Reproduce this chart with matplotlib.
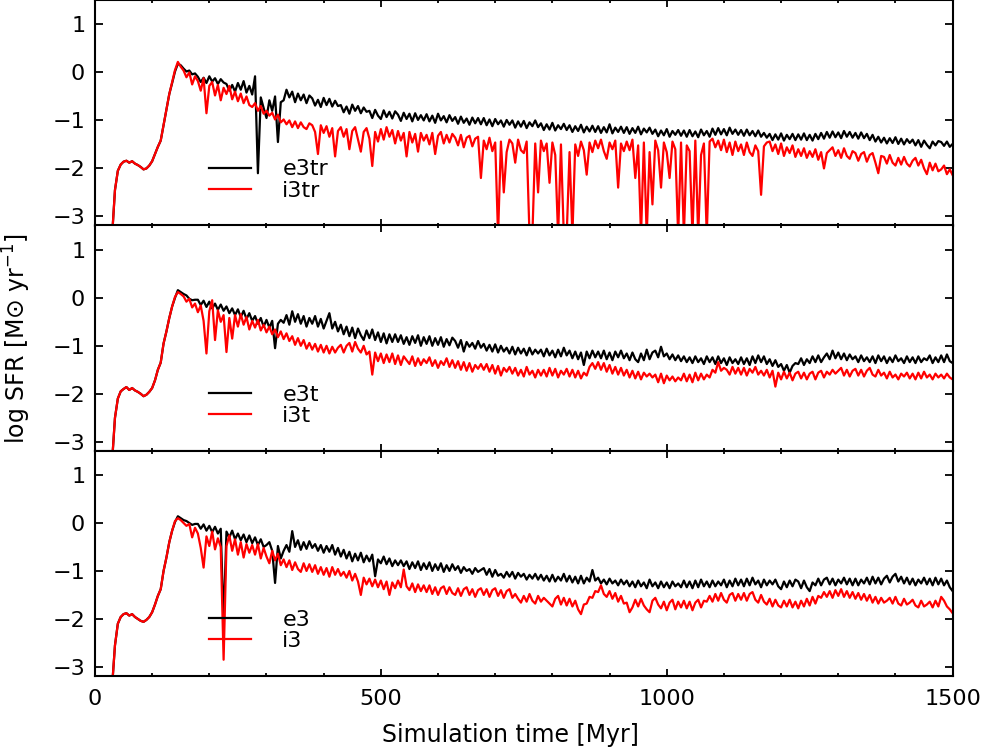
import numpy as np
import matplotlib

matplotlib.use("Agg")
import matplotlib.pyplot as plt
from matplotlib.ticker import MultipleLocator

# sampling grid of the SFR curves (Myr), values below
time_myr = np.arange(30, 1501, 5)

# ---- top panel: e3tr / i3tr ----
e3tr = [
    -3.40, -2.45, -2.05, -1.92, -1.86, -1.84, -1.88, -1.85, -1.90, -1.93,
    -1.97, -2.02, -2.00, -1.94, -1.85, -1.70, -1.55, -1.42, -1.10, -0.78,
    -0.45, -0.22, 0.02, 0.18, 0.15, 0.08, 0.02, 0.04, -0.04, -0.02,
    -0.09, -0.20, -0.11, -0.22, -0.08, -0.19, -0.12, -0.24, -0.14, -0.21,
    -0.24, -0.38, -0.26, -0.40, -0.22, -0.36, -0.18, -0.42, -0.28, -0.46,
    -0.08, -2.10, -0.52, -0.74, -0.95, -0.58, -0.80, -0.50, -1.45, -0.62,
    -0.58, -0.36, -0.52, -0.40, -0.62, -0.44, -0.58, -0.46, -0.64, -0.48,
    -0.54, -0.69, -0.57, -0.72, -0.53, -0.68, -0.55, -0.71, -0.59, -0.70,
    -0.68, -0.83, -0.71, -0.86, -0.67, -0.80, -0.70, -0.85, -0.73, -0.82,
    -0.80, -0.95, -0.78, -0.90, -0.97, -0.79, -0.93, -0.82, -0.96, -0.81,
    -0.88, -1.01, -0.84, -0.97, -0.86, -1.02, -0.85, -0.99, -0.89, -1.00,
    -0.87, -1.02, -0.90, -1.05, -0.86, -1.00, -0.91, -1.04, -0.89, -1.01,
    -0.93, -1.07, -0.92, -1.05, -0.96, -1.09, -0.94, -1.06, -0.95, -1.08,
    -0.95, -1.10, -0.98, -1.12, -0.97, -1.08, -1.00, -1.13, -0.99, -1.09,
    -1.00, -1.15, -1.02, -1.13, -1.01, -1.16, -1.04, -1.12, -1.00, -1.14,
    -1.06, -1.20, -1.08, -1.19, -1.05, -1.21, -1.10, -1.18, -1.07, -1.20,
    -1.10, -1.24, -1.12, -1.22, -1.09, -1.25, -1.13, -1.23, -1.11, -1.24,
    -1.12, -1.26, -1.14, -1.25, -1.08, -1.27, -1.15, -1.24, -1.13, -1.26,
    -1.14, -1.28, -1.16, -1.26, -1.13, -1.29, -1.17, -1.25, -1.15, -1.28,
    -1.19, -1.33, -1.21, -1.31, -1.18, -1.34, -1.22, -1.30, -1.20, -1.32,
    -1.21, -1.34, -1.20, -1.33, -1.23, -1.35, -1.19, -1.31, -1.22, -1.34,
    -1.17, -1.30, -1.16, -1.29, -1.18, -1.31, -1.15, -1.28, -1.19, -1.30,
    -1.20, -1.32, -1.19, -1.31, -1.22, -1.33, -1.21, -1.34, -1.26, -1.36,
    -1.28, -1.41, -1.29, -1.40, -1.27, -1.42, -1.30, -1.39, -1.28, -1.41,
    -1.29, -1.40, -1.27, -1.41, -1.30, -1.42, -1.28, -1.39, -1.26, -1.38,
    -1.24, -1.36, -1.23, -1.35, -1.25, -1.37, -1.22, -1.34, -1.24, -1.36,
    -1.26, -1.38, -1.25, -1.37, -1.28, -1.41, -1.30, -1.44, -1.34, -1.46,
    -1.36, -1.48, -1.37, -1.47, -1.35, -1.49, -1.38, -1.50, -1.39, -1.47,
    -1.40, -1.52, -1.41, -1.55, -1.42, -1.51, -1.58, -1.44, -1.52, -1.43,
    -1.45, -1.53, -1.44, -1.55, -1.49,
]
i3tr = [
    -3.40, -2.45, -2.05, -1.92, -1.86, -1.84, -1.88, -1.85, -1.90, -1.93,
    -1.97, -2.02, -2.00, -1.94, -1.85, -1.70, -1.55, -1.42, -1.10, -0.78,
    -0.45, -0.20, 0.05, 0.22, 0.12, 0.04, -0.10, 0.00, -0.25, -0.08,
    -0.18, -0.38, -0.12, -0.85, -0.28, -0.20, -0.48, -0.26, -0.58, -0.32,
    -0.45, -0.28, -0.56, -0.40, -0.60, -0.44, -0.64, -0.50, -0.68, -0.72,
    -0.64, -0.80, -0.70, -0.86, -0.80, -0.90, -0.84, -0.98, -0.88, -1.04,
    -0.98, -1.08, -1.00, -1.14, -1.02, -1.16, -1.04, -1.14, -1.18, -1.06,
    -1.10, -1.24, -1.70, -1.10, -1.26, -1.12, -1.34, -1.16, -1.75, -1.22,
    -1.14, -1.34, -1.18, -1.60, -1.22, -1.14, -1.40, -1.65, -1.24, -1.16,
    -1.38, -1.95, -1.24, -1.44, -1.18, -1.40, -1.14, -1.34, -1.20, -1.48,
    -1.22, -1.42, -1.26, -1.75, -1.24, -1.46, -1.28, -1.65, -1.26, -1.42,
    -1.30, -1.50, -1.26, -1.70, -1.32, -1.24, -1.48, -1.30, -1.46, -1.28,
    -1.36, -1.52, -1.30, -1.56, -1.36, -1.32, -1.54, -1.38, -1.34, -2.20,
    -1.42, -1.60, -1.36, -1.64, -1.46, -3.40, -1.44, -2.50, -1.66, -1.40,
    -1.48, -1.88, -1.40, -1.62, -1.68, -1.44, -3.40, -3.40, -1.48, -2.50,
    -1.42, -1.64, -1.48, -2.30, -1.46, -1.72, -3.40, -1.50, -3.40, -3.40,
    -1.66, -3.40, -1.50, -1.74, -1.44, -1.62, -2.13, -1.46, -1.66, -1.42,
    -1.58, -1.40, -1.64, -1.80, -1.46, -1.60, -1.42, -2.40, -1.48, -1.64,
    -1.44, -1.62, -1.40, -2.20, -1.52, -3.40, -1.46, -3.40, -1.66, -2.75,
    -1.42, -1.62, -2.40, -1.46, -1.66, -2.20, -1.44, -1.60, -3.40, -1.46,
    -3.40, -1.52, -1.64, -3.40, -1.42, -3.40, -1.72, -1.48, -3.40, -1.44,
    -1.38, -1.56, -1.42, -1.62, -1.40, -1.66, -1.46, -1.72, -1.44, -1.64,
    -1.50, -1.72, -1.46, -1.66, -1.74, -1.52, -1.64, -2.55, -1.54, -1.46,
    -1.44, -1.64, -1.50, -1.70, -1.48, -1.74, -1.56, -1.68, -1.52, -1.76,
    -1.60, -1.74, -1.58, -1.78, -1.64, -1.76, -1.60, -1.82, -1.66, -2.00,
    -1.68, -1.62, -1.56, -1.74, -1.62, -1.78, -1.58, -1.74, -1.80, -1.64,
    -1.68, -1.84, -1.70, -1.66, -1.86, -1.72, -1.68, -1.88, -2.10, -1.74,
    -1.76, -1.90, -1.72, -1.88, -1.94, -1.78, -1.92, -1.76, -1.90, -1.96,
    -1.84, -1.78, -1.94, -1.82, -2.00, -2.12, -1.88, -2.04, -1.90, -2.06,
    -2.02, -1.94, -2.12, -2.02, -2.14,
]

# ---- middle panel: e3t / i3t ----
e3t = [
    -3.40, -2.50, -2.10, -1.95, -1.90, -1.86, -1.92, -1.88, -1.93, -1.96,
    -2.00, -2.05, -2.02, -1.96, -1.88, -1.72, -1.50, -1.35, -0.95, -0.70,
    -0.42, -0.18, 0.00, 0.16, 0.12, 0.08, 0.05, -0.02, -0.05, -0.04,
    -0.04, -0.15, -0.06, -0.19, -0.08, -0.22, -0.12, -0.25, -0.14, -0.27,
    -0.18, -0.32, -0.22, -0.36, -0.24, -0.40, -0.27, -0.44, -0.32, -0.48,
    -0.38, -0.54, -0.42, -0.60, -0.46, -0.62, -0.48, -1.05, -0.54, -0.46,
    -0.52, -0.36, -0.56, -0.28, -0.50, -0.34, -0.54, -0.38, -0.60, -0.42,
    -0.54, -0.38, -0.60, -0.44, -0.64, -0.48, -0.32, -0.64, -0.50, -0.70,
    -0.56, -0.76, -0.60, -0.80, -0.62, -0.84, -0.64, -0.78, -0.88, -0.68,
    -0.84, -0.66, -0.88, -0.72, -0.92, -0.74, -0.95, -0.76, -0.92, -0.76,
    -0.92, -0.78, -0.96, -0.82, -0.98, -0.80, -0.94, -0.78, -1.00, -0.82,
    -0.96, -0.80, -1.00, -0.84, -0.98, -0.82, -1.02, -0.86, -0.99, -0.83,
    -0.90, -1.04, -0.88, -1.12, -0.92, -1.02, -0.94, -1.06, -0.90, -1.04,
    -0.96, -1.10, -0.98, -1.12, -0.97, -1.14, -1.00, -1.12, -1.04, -1.16,
    -1.02, -1.18, -1.04, -1.16, -1.06, -1.20, -1.04, -1.18, -1.08, -1.16,
    -1.08, -1.22, -1.06, -1.20, -1.10, -1.24, -1.08, -1.22, -1.04, -1.20,
    -1.10, -1.26, -1.12, -1.28, -1.14, -1.40, -1.12, -1.26, -1.10, -1.24,
    -1.12, -1.26, -1.10, -1.28, -1.14, -1.30, -1.12, -1.24, -1.10, -1.26,
    -1.16, -1.30, -1.14, -1.28, -1.34, -1.16, -1.30, -1.08, -1.28, -1.14,
    -1.10, -1.24, -1.02, -1.22, -1.16, -1.28, -1.18, -1.30, -1.20, -1.32,
    -1.22, -1.34, -1.24, -1.36, -1.22, -1.34, -1.26, -1.38, -1.22, -1.34,
    -1.24, -1.38, -1.22, -1.36, -1.26, -1.40, -1.24, -1.36, -1.28, -1.38,
    -1.24, -1.38, -1.26, -1.40, -1.22, -1.36, -1.20, -1.34, -1.22, -1.38,
    -1.28, -1.42, -1.30, -1.44, -1.38, -1.52, -1.40, -1.56, -1.42, -1.36,
    -1.38, -1.26, -1.40, -1.28, -1.36, -1.22, -1.34, -1.20, -1.34, -1.24,
    -1.16, -1.28, -1.10, -1.26, -1.14, -1.28, -1.16, -1.30, -1.18, -1.28,
    -1.22, -1.34, -1.20, -1.32, -1.24, -1.34, -1.22, -1.36, -1.20, -1.32,
    -1.22, -1.36, -1.24, -1.34, -1.20, -1.32, -1.26, -1.36, -1.22, -1.34,
    -1.24, -1.36, -1.22, -1.34, -1.26, -1.30, -1.20, -1.36, -1.24, -1.34,
    -1.20, -1.34, -1.18, -1.32, -1.36,
]
i3t = [
    -3.40, -2.50, -2.10, -1.95, -1.90, -1.86, -1.92, -1.88, -1.93, -1.96,
    -2.00, -2.05, -2.02, -1.96, -1.88, -1.72, -1.50, -1.35, -0.95, -0.70,
    -0.42, -0.18, 0.02, 0.12, 0.08, 0.03, -0.08, -0.02, -0.20, -0.12,
    -0.30, -0.16, -0.48, -1.16, -0.28, -0.05, -0.88, -0.26, -0.50, -0.36,
    -1.13, -0.42, -0.85, -0.36, -0.60, -0.34, -0.56, -0.40, -0.66, -0.48,
    -0.62, -0.46, -0.68, -0.56, -0.72, -0.60, -0.76, -0.66, -0.82, -0.70,
    -0.86, -0.74, -0.90, -0.80, -0.98, -0.84, -1.00, -0.88, -1.06, -0.94,
    -1.08, -0.96, -1.12, -0.98, -1.14, -1.00, -1.16, -1.02, -1.14, -1.04,
    -0.98, -1.14, -1.00, -0.94, -1.12, -0.92, -1.06, -1.14, -1.00, -1.18,
    -1.12, -1.60, -1.14, -1.32, -1.16, -1.36, -1.18, -1.34, -1.16, -1.38,
    -1.20, -1.40, -1.22, -1.30, -1.38, -1.22, -1.42, -1.26, -1.40, -1.28,
    -1.36, -1.24, -1.42, -1.30, -1.46, -1.32, -1.40, -1.26, -1.44, -1.30,
    -1.46, -1.32, -1.50, -1.34, -1.52, -1.36, -1.54, -1.40, -1.48, -1.38,
    -1.50, -1.38, -1.54, -1.40, -1.58, -1.42, -1.62, -1.46, -1.54, -1.44,
    -1.58, -1.46, -1.62, -1.50, -1.64, -1.44, -1.60, -1.52, -1.66, -1.50,
    -1.62, -1.50, -1.64, -1.46, -1.62, -1.48, -1.66, -1.52, -1.60, -1.48,
    -1.64, -1.50, -1.66, -1.52, -1.68, -1.56, -1.62, -1.44, -1.36, -1.48,
    -1.34, -1.50, -1.36, -1.54, -1.40, -1.58, -1.44, -1.60, -1.46, -1.62,
    -1.50, -1.66, -1.52, -1.68, -1.54, -1.70, -1.56, -1.64, -1.58, -1.66,
    -1.60, -1.76, -1.58, -1.78, -1.62, -1.72, -1.64, -1.74, -1.66, -1.72,
    -1.58, -1.74, -1.60, -1.76, -1.56, -1.72, -1.58, -1.70, -1.60, -1.66,
    -1.50, -1.56, -1.34, -1.52, -1.46, -1.50, -1.60, -1.44, -1.58, -1.46,
    -1.60, -1.46, -1.62, -1.48, -1.56, -1.44, -1.60, -1.52, -1.62, -1.50,
    -1.66, -1.52, -1.85, -1.56, -1.70, -1.54, -1.68, -1.56, -1.72, -1.58,
    -1.54, -1.68, -1.56, -1.70, -1.58, -1.54, -1.70, -1.56, -1.52, -1.66,
    -1.54, -1.60, -1.50, -1.58, -1.52, -1.46, -1.62, -1.50, -1.64, -1.52,
    -1.48, -1.62, -1.50, -1.64, -1.52, -1.46, -1.60, -1.64, -1.50, -1.62,
    -1.56, -1.68, -1.54, -1.66, -1.60, -1.70, -1.58, -1.64, -1.56, -1.68,
    -1.58, -1.70, -1.56, -1.68, -1.54, -1.66, -1.60, -1.70, -1.58, -1.66,
    -1.60, -1.68, -1.58, -1.66, -1.70,
]

# ---- bottom panel: e3 / i3 ----
e3 = [
    -3.40, -2.55, -2.10, -1.96, -1.90, -1.88, -1.93, -1.90, -1.96, -2.00,
    -2.04, -2.06, -2.02, -1.96, -1.86, -1.70, -1.52, -1.38, -1.00, -0.72,
    -0.40, -0.16, 0.02, 0.14, 0.10, 0.06, 0.04, 0.00, -0.04, -0.02,
    -0.02, -0.12, -0.03, -0.16, -0.06, -0.19, -0.08, -0.22, -0.12, -2.07,
    -0.18, -0.30, -0.16, -0.34, -0.22, -0.36, -0.24, -0.40, -0.26, -0.42,
    -0.30, -0.46, -0.34, -0.50, -0.46, -0.40, -0.58, -1.25, -0.48, -0.74,
    -0.58, -0.46, -0.60, -0.17, -0.50, -0.36, -0.56, -0.40, -0.54, -0.38,
    -0.52, -0.44, -0.58, -0.46, -0.62, -0.48, -0.60, -0.46, -0.66, -0.52,
    -0.70, -0.56, -0.74, -0.60, -0.80, -0.64, -0.78, -0.62, -0.82, -0.68,
    -0.80, -0.66, -1.11, -0.76, -0.84, -0.70, -0.86, -0.74, -0.90, -0.78,
    -0.88, -0.78, -0.90, -0.80, -0.96, -0.82, -0.94, -0.80, -0.98, -0.84,
    -0.96, -0.82, -1.00, -0.86, -0.98, -0.84, -1.02, -0.88, -1.00, -0.86,
    -0.98, -0.90, -1.04, -0.92, -1.00, -0.96, -1.06, -0.94, -1.02, -0.98,
    -0.94, -1.08, -0.96, -1.12, -0.98, -1.10, -1.06, -1.14, -1.02, -1.12,
    -1.02, -1.16, -1.04, -1.12, -1.06, -1.18, -1.08, -1.16, -1.06, -1.18,
    -1.08, -1.20, -1.10, -1.22, -1.08, -1.22, -1.12, -1.20, -1.06, -1.22,
    -1.10, -1.24, -1.12, -1.26, -1.10, -1.26, -1.14, -1.22, -0.98, -1.20,
    -1.14, -1.26, -1.18, -1.28, -1.16, -1.26, -1.20, -1.30, -1.18, -1.28,
    -1.20, -1.32, -1.22, -1.34, -1.20, -1.32, -1.24, -1.36, -1.18, -1.32,
    -1.24, -1.36, -1.22, -1.34, -1.24, -1.36, -1.22, -1.32, -1.26, -1.34,
    -1.20, -1.34, -1.22, -1.36, -1.20, -1.34, -1.18, -1.32, -1.22, -1.34,
    -1.20, -1.32, -1.22, -1.30, -1.18, -1.34, -1.20, -1.32, -1.16, -1.30,
    -1.18, -1.32, -1.16, -1.30, -1.14, -1.28, -1.20, -1.34, -1.18, -1.30,
    -1.20, -1.28, -1.18, -1.32, -1.38, -1.22, -1.34, -1.20, -1.32, -1.18,
    -1.22, -1.36, -1.20, -1.34, -1.42, -1.24, -1.30, -1.16, -1.30, -1.18,
    -1.14, -1.28, -1.16, -1.30, -1.18, -1.26, -1.14, -1.28, -1.16, -1.30,
    -1.16, -1.30, -1.18, -1.26, -1.14, -1.28, -1.12, -1.26, -1.14, -1.28,
    -1.16, -1.10, -1.24, -1.12, -1.06, -1.22, -1.12, -1.26, -1.14, -1.28,
    -1.16, -1.30, -1.18, -1.26, -1.14, -1.28, -1.16, -1.30, -1.14, -1.28,
    -1.16, -1.30, -1.20, -1.34, -1.42,
]
i3 = [
    -3.40, -2.55, -2.10, -1.96, -1.90, -1.88, -1.93, -1.90, -1.96, -2.00,
    -2.04, -2.06, -2.02, -1.96, -1.86, -1.70, -1.52, -1.38, -1.00, -0.72,
    -0.40, -0.16, 0.04, 0.10, 0.06, 0.00, -0.06, -0.02, -0.30, -0.10,
    -0.22, -0.52, -0.93, -0.28, -0.48, -0.18, -0.55, -0.32, -0.50, -2.85,
    -0.48, -0.26, -0.58, -0.34, -0.66, -0.40, -0.72, -0.44, -0.62, -0.46,
    -0.66, -0.44, -0.74, -0.52, -0.70, -0.84, -0.58, -0.78, -0.64, -0.88,
    -0.76, -0.92, -0.78, -0.98, -0.82, -0.96, -1.02, -0.84, -1.00, -0.86,
    -1.02, -0.88, -1.06, -0.92, -1.08, -0.94, -1.12, -0.92, -1.08, -0.96,
    -1.10, -1.02, -1.14, -1.00, -1.20, -1.06, -1.22, -1.50, -1.14, -1.28,
    -1.16, -1.32, -1.18, -1.34, -1.20, -1.38, -1.22, -1.50, -1.24, -1.36,
    -1.20, -1.34, -0.97, -1.32, -1.40, -1.26, -1.44, -1.28, -1.42, -1.30,
    -1.44, -1.30, -1.48, -1.34, -1.50, -1.36, -1.32, -1.48, -1.34, -1.46,
    -1.50, -1.36, -1.52, -1.38, -1.34, -1.50, -1.38, -1.54, -1.40, -1.36,
    -1.50, -1.38, -1.54, -1.40, -1.36, -1.52, -1.40, -1.56, -1.42, -1.38,
    -1.56, -1.48, -1.58, -1.66, -1.52, -1.64, -1.48, -1.62, -1.68, -1.52,
    -1.64, -1.56, -1.62, -1.68, -1.74, -1.58, -1.52, -1.70, -1.56, -1.72,
    -1.58, -1.74, -1.62, -1.80, -1.90, -1.70, -1.68, -1.54, -1.56, -1.42,
    -1.44, -1.30, -1.48, -1.54, -1.42, -1.58, -1.46, -1.64, -1.52, -1.68,
    -1.66, -1.86, -1.76, -1.60, -1.74, -1.58, -1.72, -1.80, -1.86, -1.62,
    -1.56, -1.70, -1.78, -1.64, -1.82, -1.66, -1.60, -1.80, -1.64, -1.76,
    -1.62, -1.78, -1.64, -1.82, -1.66, -1.60, -1.76, -1.62, -1.64, -1.52,
    -1.64, -1.48, -1.62, -1.46, -1.60, -1.66, -1.50, -1.46, -1.62, -1.48,
    -1.60, -1.46, -1.62, -1.48, -1.44, -1.60, -1.66, -1.50, -1.64, -1.70,
    -1.58, -1.74, -1.60, -1.72, -1.76, -1.62, -1.74, -1.60, -1.76, -1.64,
    -1.78, -1.62, -1.74, -1.58, -1.72, -1.54, -1.68, -1.52, -1.56, -1.44,
    -1.54, -1.42, -1.56, -1.40, -1.52, -1.38, -1.54, -1.42, -1.56, -1.44,
    -1.58, -1.46, -1.60, -1.48, -1.62, -1.50, -1.66, -1.54, -1.68, -1.56,
    -1.66, -1.62, -1.56, -1.68, -1.54, -1.68, -1.72, -1.58, -1.70, -1.66,
    -1.60, -1.72, -1.76, -1.62, -1.74, -1.70, -1.64, -1.76, -1.62, -1.74,
    -1.54, -1.62, -1.74, -1.80, -1.88,
]

panels = [
    (e3tr, i3tr, "e3tr", "i3tr"),
    (e3t, i3t, "e3t", "i3t"),
    (e3, i3, "e3", "i3"),
]
y_ticks = [-3, -2, -1, 0, 1]
x_ticks = [0, 500, 1000, 1500]

plt.rcParams["font.family"] = ["DejaVu Sans"]
fig = plt.figure(figsize=(9.83, 7.54), dpi=100)

left, width = 0.0966, 0.8725
height = 0.2991
bottoms = [0.7009, 0.4020, 0.1034]

axes = []
for k, (black, red, lab_b, lab_r) in enumerate(panels):
    ax = fig.add_axes([left, bottoms[k], width, height])
    axes.append(ax)
    ax.plot(time_myr, black, color="black", lw=1.6, label=lab_b)
    ax.plot(time_myr, red, color="red", lw=1.6, label=lab_r)
    ax.set_xlim(0, 1500)
    ax.set_ylim(-3.19, 1.51)
    ax.set_yticks(y_ticks)
    ax.set_xticks(x_ticks)
    ax.xaxis.set_minor_locator(MultipleLocator(100))
    ax.tick_params(which="both", direction="in", top=True, right=True,
                   width=1.3, labelsize=16)
    ax.tick_params(axis="y", which="major", length=6, pad=7)
    ax.tick_params(axis="x", which="major", length=5, pad=9)
    ax.tick_params(axis="x", which="minor", length=2.5)
    for sp in ax.spines.values():
        sp.set_linewidth(1.5)
    if k < 2:
        ax.tick_params(axis="x", labelbottom=False)
    ax.legend(loc="center left", bbox_to_anchor=(0.133, 0.202),
              frameon=False, fontsize=16, handlelength=1.9,
              handletextpad=1.4, labelspacing=0.05, borderpad=0,
              borderaxespad=0)

axes[2].set_xlabel("Simulation time [Myr]", fontsize=17)
axes[2].xaxis.set_label_coords(0.484, -0.21)
axes[1].set_ylabel("log SFR [M\u2299 yr$^{-1}$]", fontsize=17)
axes[1].yaxis.set_label_coords(-0.072, 0.5)

fig.savefig("out.png", dpi=100)
